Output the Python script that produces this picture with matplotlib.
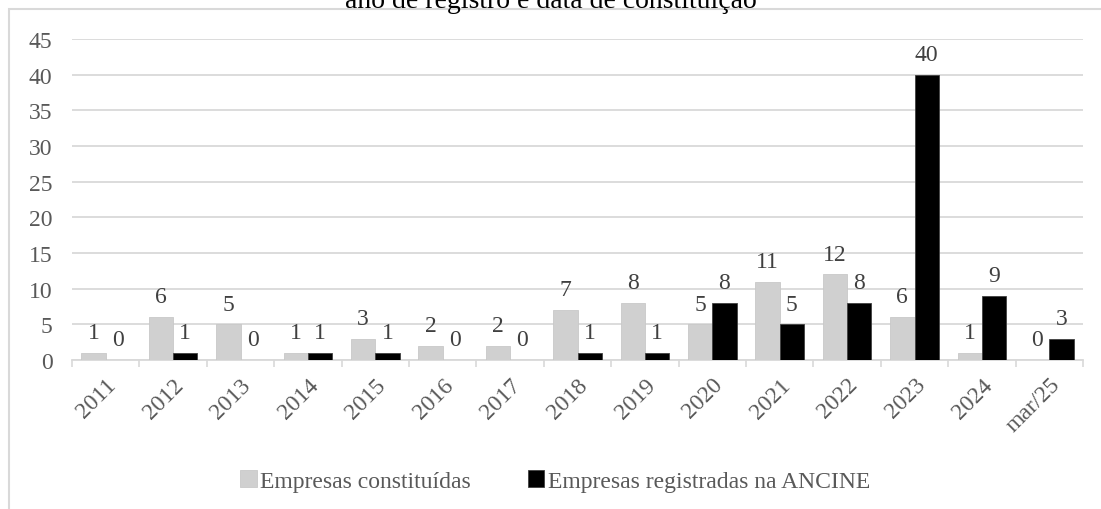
import matplotlib.pyplot as plt
import numpy as np
from matplotlib.patches import Rectangle

plt.rcParams['font.family'] = ['Liberation Serif', 'DejaVu Serif']

# data
anos = ['2011', '2012', '2013', '2014', '2015', '2016', '2017', '2018',
        '2019', '2020', '2021', '2022', '2023', '2024', 'mar/25']
constituidas = [1, 6, 5, 1, 3, 2, 2, 7, 8, 5, 11, 12, 6, 1, 0]
registradas = [0, 1, 0, 1, 1, 0, 0, 1, 1, 8, 5, 8, 40, 9, 3]

cinza = '#D0D0D0'
preto = '#000000'
texto = '#595959'

fig = plt.figure(figsize=(11.01, 5.10), dpi=100)
ax = fig.add_axes([72 / 1101, 1 - 361 / 510, (1083 - 72) / 1101, (361 - 40) / 510])

x = np.arange(len(anos))
w = 0.36
b1 = ax.bar(x - w / 2, constituidas, w, color=cinza, edgecolor='#C8C8C8',
            linewidth=0.6, label='Empresas constituídas', zorder=3)
b2 = ax.bar(x + w / 2, registradas, w, color=preto, edgecolor='#404040',
            linewidth=0.6, label='Empresas registradas na ANCINE', zorder=3)

ax.bar_label(b1, padding=7, fontsize=17, color='#404040')
ax.bar_label(b2, padding=7, fontsize=17, color='#404040')

ax.set_ylim(0, 45)
ax.set_yticks(range(0, 46, 5))
ax.set_xlim(-0.5, len(anos) - 0.5)
ax.set_xticks(x)
ax.set_xticklabels(anos, rotation=45, ha='right', rotation_mode='anchor')
ax.set_xticks(np.arange(-0.5, len(anos)), minor=True)
ax.tick_params(axis='x', which='major', length=0, pad=10, labelsize=17, labelcolor=texto)
ax.tick_params(axis='x', which='minor', length=5, color='#D9D9D9', width=1.2)
ax.tick_params(axis='y', length=0, pad=14, labelsize=17, labelcolor=texto)
ax.yaxis.grid(True, color='#D9D9D9', linewidth=1.3, zorder=0)
for s in ['top', 'right', 'left']:
    ax.spines[s].set_visible(False)
ax.spines['bottom'].set_color('#D9D9D9')
ax.spines['bottom'].set_linewidth(1.3)

fig.legend(handles=[b1, b2], loc='center', bbox_to_anchor=(555 / 1101, 1 - 482 / 510),
           ncol=2, frameon=False, fontsize=17, labelcolor=texto,
           handlelength=0.7, handleheight=0.7, handletextpad=0.15, columnspacing=2.4)

# chart border, cut by the image edges
fig.patches.append(Rectangle((9 / 1101, -0.1), 1.2, 1 - 10 / 510 + 0.1,
                             transform=fig.transFigure, fill=False,
                             edgecolor='#D9D9D9', linewidth=1.5))

fig.text(0.5, 1 - 1 / 510, 'ano de registro e data de constituição',
         ha='center', va='center', fontsize=20, color='#000000')

fig.savefig('out.png', dpi=100)
